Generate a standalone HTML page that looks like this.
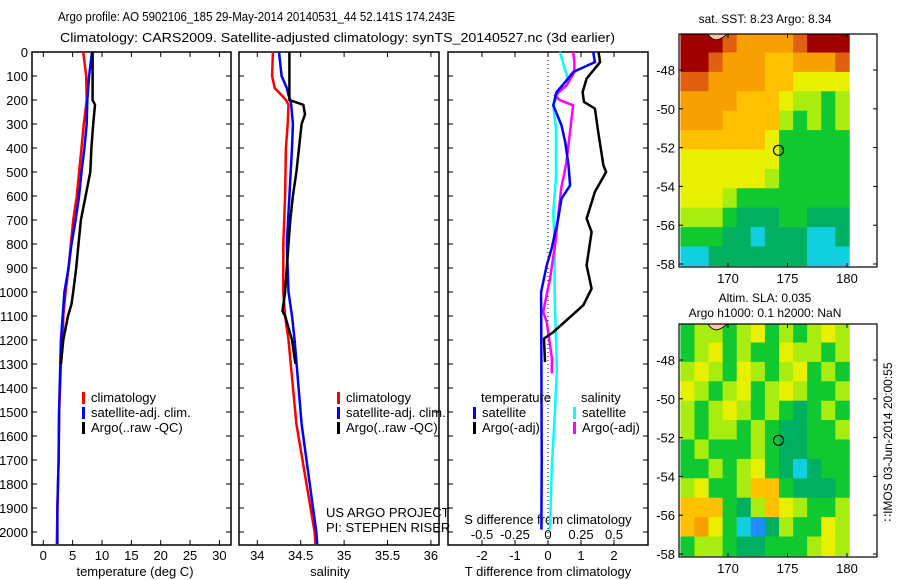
<!DOCTYPE html>
<html><head><meta charset="utf-8"><style>
body{margin:0;background:#fff}
svg{display:block;font-family:"Liberation Sans",sans-serif}
text{fill:#000}
</style></head><body>
<svg id="c" width="900" height="580" xmlns="http://www.w3.org/2000/svg">
<text x="58" y="21" font-size="13" textLength="397" lengthAdjust="spacingAndGlyphs">Argo profile: AO 5902106_185 29-May-2014 20140531_44 52.141S 174.243E</text>
<text x="60" y="42" font-size="13" textLength="555" lengthAdjust="spacingAndGlyphs">Climatology: CARS2009. Satellite-adjusted climatology: synTS_20140527.nc (3d earlier)</text>
<g id="g"></g>
</svg>
<script>
// ---- profile data ----
const tDepth = [0,100,200,220,300,400,500,600,700,800,900,1000,1050,1100,1200,1300];
const tArgo = [8.4,8.4,8.4,8.8,8.5,8.2,8.0,7.2,6.4,6.0,5.6,5.1,4.8,4.2,3.4,3.0];
const climDepth = [0,100,200,300,400,500,600,700,800,900,1000,1100,1200,1300,1500,1700,1900,2050];
const tClim = [6.8,7.3,7.4,6.9,6.5,6.1,5.7,5.1,4.7,4.3,3.8,3.4,3.3,3.0,2.7,2.6,2.4,2.3];
const tSat = [8.3,7.8,7.5,7.4,7.0,6.5,6.1,5.5,4.8,4.3,3.6,3.3,3.0,2.9,2.7,2.6,2.4,2.4];
const sDepth = [0,100,150,180,200,220,300,400,600,800,1000,1100,1200,1550,2000,2050];
const sClim = [34.18,34.17,34.20,34.28,34.33,34.36,34.35,34.33,34.32,34.30,34.30,34.32,34.36,34.45,34.66,34.67];
const sSat = [34.25,34.28,34.34,34.36,34.38,34.39,34.41,34.40,34.37,34.34,34.36,34.40,34.43,34.51,34.68,34.69];
const sArgoDepth = [0,200,220,260,300,400,500,600,700,800,1000,1080,1100,1200,1300];
const sArgo = [34.37,34.37,34.53,34.55,34.51,34.48,34.45,34.41,34.38,34.36,34.32,34.29,34.32,34.40,34.44];
const dTArgoDepth = [0,42,111,167,208,236,333,472,500,583,694,750,889,986,1055,1167,1194,1292];
const dTArgo = [1.53,1.58,1.17,1.05,1.09,1.42,1.52,1.68,1.76,1.42,1.17,1.32,1.17,1.32,1.07,0.16,-0.12,-0.09];
const dTSatDepth = [0,42,83,125,167,222,306,375,472,556,611,694,819,889,1000,1300,1700,1990];
const dTSat = [1.37,1.42,0.77,0.52,0.26,0.16,0.41,0.52,0.62,0.67,0.41,0.31,0.11,-0.04,-0.21,-0.2,-0.19,-0.2];
const dSArgoDepth = [0,42,83,139,181,201,222,319,458,569,680,806,944,1083,1125,1278,1320,1340];
const dSArgo = [0.19,0.20,0.20,0.14,0.053,0.09,0.19,0.17,0.14,0.10,0.078,0.053,0.015,-0.036,-0.01,0.03,0.028,0.03];
const dSSatDepth = [0,56,111,153,222,319,528,667,806,1014,1290,1340,1490,1740,1990];
const dSSat = [0.09,0.12,0.15,0.09,0.04,0.06,0.06,0.04,0.05,0.05,0.066,0.066,0.053,0.028,0.015];
// ---- map data (colour index 0..9 on 12x12 grid, lat rows -46..-58, lon 166..180) ----
const sstGrid = [
[9,9,9,8,7,7,7,7,8,9,9,9],[9,9,8,7,7,7,6,6,7,7,7,8],[8,8,7,7,7,7,6,6,5,5,5,5],
[7,7,7,7,6,6,6,5,4,4,3,4],[7,7,7,6,6,6,6,4,3,4,3,4],[6,6,6,6,6,6,5,3,3,3,3,3],
[5,5,5,5,5,5,5,3,3,3,3,3],[5,5,5,5,5,5,4,3,3,3,3,3],[5,5,5,4,3,3,3,3,3,3,3,3],
[4,4,4,3,2,2,2,3,3,2,2,2],[3,3,3,2,2,1,2,2,2,1,1,2],[1,1,2,2,2,2,2,2,2,1,1,1]];
const slaGrid = [
[3,4,4,3,4,5,3,4,3,4,5,4],[3,4,5,3,4,3,3,5,4,4,3,4],[4,5,4,3,5,4,3,4,5,3,4,3],
[5,4,3,4,5,3,4,5,4,3,3,4],[4,3,4,5,4,3,4,3,2,3,4,3],[4,3,4,4,3,4,3,2,2,3,3,4],
[3,4,3,3,3,4,3,2,2,3,3,3],[3,3,4,3,4,5,3,2,1,2,3,3],[4,5,3,3,4,6,6,3,2,2,2,3],
[6,6,6,3,2,4,6,5,4,3,3,4],[6,7,5,3,1,0,2,4,3,3,5,4],[3,4,4,3,2,2,3,3,3,4,5,4]];
const palette = ['#1e8cff','#10d0e0','#00b060','#10c830','#a8ec10','#e8f000','#ffc000','#f8a000','#e06010','#a00000'];
const floatLon = 174.243, floatLat = -52.141;

const NS='http://www.w3.org/2000/svg', G=document.getElementById('g');
function mk(tag,at,txt){const e=document.createElementNS(NS,tag);for(const k in at)e.setAttribute(k,at[k]);if(txt!==undefined)e.textContent=txt;G.appendChild(e);return e;}
const Y0=52, YS=0.24, YB=545;
const yD=d=>Y0+d*YS;
function line(xs,ds,sx,col,name){
  const pts=xs.map((v,i)=>sx(v).toFixed(1)+','+yD(ds[i]).toFixed(1)).join(' ');
  const p=mk('polyline',{points:pts,fill:'none',stroke:col,'stroke-width':2.5});
  
  
}
function panel(x0,x1,name){
  const r=mk('rect',{x:x0,y:Y0,width:x1-x0,height:YB-Y0,fill:'none',stroke:'#000','stroke-width':1.5});
  
  
  for(let d=100;d<=2000;d+=100){mk('line',{x1:x0,x2:x0+5,y1:yD(d),y2:yD(d),stroke:'#000'});mk('line',{x1:x1-5,x2:x1,y1:yD(d),y2:yD(d),stroke:'#000'});}
}
function xticks(sx,vals,labels,x0,y,fs){vals.forEach((v,i)=>{mk('line',{x1:sx(v),x2:sx(v),y1:YB,y2:YB-5,stroke:'#000'});mk('line',{x1:sx(v),x2:sx(v),y1:Y0,y2:Y0+5,stroke:'#000'});
  const t=mk('text',{x:sx(v),y:y,'font-size':fs||13,'text-anchor':'middle'},labels[i]);});}
// depth labels
for(let d=0;d<=2000;d+=100){const t=mk('text',{x:28,y:yD(d)+5,'font-size':13,'text-anchor':'end'},String(d));}
// panel 1 temperature
const sxT=v=>43.3+v*5.87;
panel(32,231,'temperature-panel');
xticks(sxT,[0,5,10,15,20,25,30],['0','5','10','15','20','25','30'],0,560);
mk('text',{x:135,y:576,'font-size':13,'text-anchor':'middle',},'temperature (deg C)');
line(tClim,climDepth,sxT,'#f00','temp-climatology-line');
line(tSat,climDepth,sxT,'#00f','temp-satellite-line');
line(tArgo,tDepth,sxT,'#000','temp-argo-line');
function legend(x,y,items){items.forEach((it,i)=>{mk('rect',{x:x,y:y+i*15-10,width:3,height:12,fill:it[0]});
  const t=mk('text',{x:x+9,y:y+i*15,'font-size':13},it[1]);});}
legend(82,402,[['#f00','climatology'],['#00f','satellite-adj. clim.'],['#000','Argo(..raw -QC)']]);
// panel 2 salinity
const sxS=v=>257.3+(v-34)*86.8;
panel(239,439,'salinity-panel');
xticks(sxS,[34,34.5,35,35.5,36],['34','34.5','35','35.5','36'],0,560);
mk('text',{x:330,y:576,'font-size':13,'text-anchor':'middle',},'salinity');
line(sClim,sDepth,sxS,'#f00','sal-climatology-line');
line(sSat,sDepth,sxS,'#00f','sal-satellite-line');
line(sArgo,sArgoDepth,sxS,'#000','sal-argo-line');
legend(337,402,[['#f00','climatology'],['#00f','satellite-adj. clim.'],['#000','Argo(..raw -QC)']]);
mk('text',{x:326,y:517,'font-size':13,},'US ARGO PROJECT');
mk('text',{x:326,y:532,'font-size':13,},'PI: STEPHEN RISER');
// panel 3 differences
const sxD=v=>548+v*33, sxDS=v=>548+v*132;
panel(448,648,'difference-panel');
mk('line',{x1:548,x2:548,y1:Y0,y2:YB,stroke:'#000','stroke-dasharray':'1,3'});
[-2,-1,0,1,2].forEach(v=>{mk('line',{x1:sxD(v),x2:sxD(v),y1:YB,y2:YB-5,stroke:'#000'});mk('line',{x1:sxD(v),x2:sxD(v),y1:Y0,y2:Y0+5,stroke:'#000'});
  const t=mk('text',{x:sxD(v),y:560,'font-size':13,'text-anchor':'middle'},String(v));});
[-0.5,-0.25,0,0.25,0.5].forEach(v=>{const t=mk('text',{x:sxDS(v),y:539,'font-size':13,'text-anchor':'middle'},String(v));});
mk('text',{x:548,y:524,'font-size':13,'text-anchor':'middle',},'S difference from climatology');
mk('text',{x:548,y:576,'font-size':13,'text-anchor':'middle',},'T difference from climatology');
line(dSSat,dSSatDepth,sxDS,'#0ff','dsal-satellite-line');
line(dSArgo,dSArgoDepth,sxDS,'#f0f','dsal-argo-line');
line(dTSat,dTSatDepth,sxD,'#00f','dtemp-satellite-line');
line(dTArgo,dTArgoDepth,sxD,'#000','dtemp-argo-line');
mk('text',{x:481,y:402,'font-size':13},'temperature');
mk('text',{x:581,y:402,'font-size':13},'salinity');
legend(473,417,[['#00f','satellite'],['#000','Argo(-adj)']]);
legend(573,417,[['#0ff','satellite'],['#f0f','Argo(-adj)']]);
// maps
const mx=lon=>728+(lon-170)*11.9;
function map(top,grid,name){
  const my=lat=>top+36+(-48-lat)*19.4;
  grid.forEach((row,r)=>row.forEach((v,c)=>{
    const x0=mx(166+c*14.2/12), x1=mx(166+(c+1)*14.2/12), y0=my(-46.1-r), y1=my(-47.1-r);
    const cell=mk('rect',{x:x0.toFixed(1),y:Math.max(y0,top).toFixed(1),width:(x1-x0+0.3).toFixed(1),height:(Math.min(y1,top+233)-Math.max(y0,top)+0.3).toFixed(1),fill:palette[v]});
    
    
  }));
  mk('path',{d:`M${mx(168.3)} ${top} q6 9 14 4 l6 -4z`,fill:'#f8c8a0',stroke:'#000','stroke-width':0.8});
  const c=mk('circle',{cx:mx(floatLon),cy:my(floatLat),r:5,fill:'none',stroke:'#000','stroke-width':1.2});
  
  
  const b=mk('rect',{x:679,y:top,width:198,height:233,fill:'none',stroke:'#000','stroke-width':1.2});
  
  
  [-48,-50,-52,-54,-56,-58].forEach(l=>{mk('line',{x1:679,x2:683,y1:my(l),y2:my(l),stroke:'#000'});mk('line',{x1:873,x2:877,y1:my(l),y2:my(l),stroke:'#000'});
    const t=mk('text',{x:675,y:my(l)+5,'font-size':13,'text-anchor':'end'},String(l));});
  [170,175,180].forEach(l=>{mk('line',{x1:mx(l),x2:mx(l),y1:top+233,y2:top+229,stroke:'#000'});mk('line',{x1:mx(l),x2:mx(l),y1:top,y2:top+4,stroke:'#000'});
    const t=mk('text',{x:mx(l),y:top+249,'font-size':13,'text-anchor':'middle'},String(l));});
}
map(34,sstGrid,'sst-map');
map(324,slaGrid,'sla-map');
mk('text',{x:765,y:23,'font-size':12,'text-anchor':'middle',},'sat. SST: 8.23 Argo: 8.34');
mk('text',{x:765,y:302,'font-size':12,'text-anchor':'middle',},'Altim. SLA: 0.035');
mk('text',{x:765,y:317,'font-size':12,'text-anchor':'middle',},'Argo h1000: 0.1 h2000: NaN');
mk('text',{x:0,y:0,'font-size':12,'text-anchor':'middle',transform:'translate(892,442) rotate(-90)',},'\u2237IMOS 03-Jun-2014 20:00:55');
</script>
</body></html>
